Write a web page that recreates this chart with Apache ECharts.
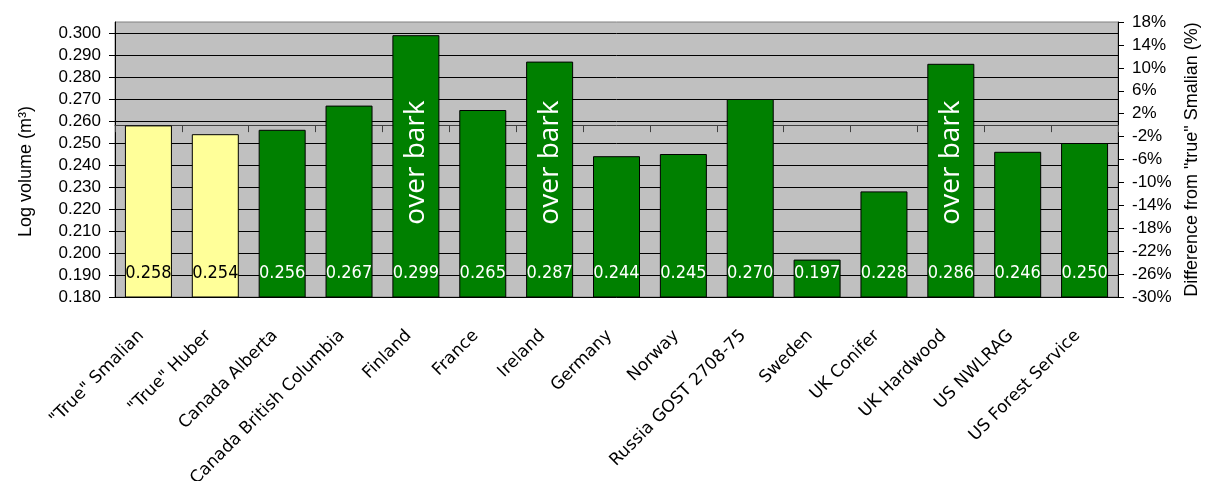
<!DOCTYPE html>
<html>
<head>
<meta charset="utf-8">
<script src="https://cdn.jsdelivr.net/npm/echarts@6/dist/echarts.min.js"></script>
<style>
html,body{margin:0;padding:0;background:#fff;}
#chart{width:1211px;height:481px;}
</style>
</head>
<body>
<div id="chart"></div>
<script>
const categories = ['"True" Smalian','"True" Huber','Canada Alberta','Canada British Columbia','Finland','France','Ireland','Germany','Norway','Russia GOST 2708-75','Sweden','UK Conifer','UK Hardwood','US NWLRAG','US Forest Service'];
const logVolumes = [0.258,0.254,0.256,0.267,0.299,0.265,0.287,0.244,0.245,0.270,0.197,0.228,0.286,0.246,0.250];
const referenceCats = ['"True" Smalian','"True" Huber'];
const overBarkCats = ['Finland','Ireland','UK Hardwood'];
const leftTicks = [0.18,0.19,0.20,0.21,0.22,0.23,0.24,0.25,0.26,0.27,0.28,0.29,0.30];
const rightTicks = [-30,-26,-22,-18,-14,-10,-6,-2,2,6,10,14,18];

const YELLOW = '#FFFF99', GREEN = '#008000';
const OVERBARK_Y = 0.2411; // vertical placement of the "over bark" note (axis units)

const barData = logVolumes.map((v, i) => {
  const isRef = referenceCats.includes(categories[i]);
  return {
    value: v,
    itemStyle: { color: isRef ? YELLOW : GREEN },
    label: { color: isRef ? '#000' : '#fff' }
  };
});

const chart = echarts.init(document.getElementById('chart'), null, {renderer: 'canvas'});
chart.setOption({
  animation: false,
  backgroundColor: '#fff',
  grid: {
    left: 115, right: 93, top: 22, bottom: 184,
    containLabel: false, outerBoundsMode: 'none',
    show: true, backgroundColor: '#C0C0C0', borderColor: '#808080', borderWidth: 1
  },
  xAxis: {
    type: 'category',
    data: categories,
    axisLine: { show: true, lineStyle: { color: '#404040', width: 1 } },
    axisTick: { show: true, length: 7, lineStyle: { color: '#404040' } },
    axisLabel: {
      interval: 0, rotate: 45, margin: 29, padding: [0, 10, 0, 0],
      fontFamily: 'DejaVu Sans', fontSize: 17, color: '#000'
    }
  },
  yAxis: [{
    type: 'value',
    position: 'left',
    min: 0.18, max: 0.305, interval: 0.01,
    name: 'Log volume (m³)',
    nameLocation: 'middle', nameGap: 80, nameRotate: 90,
    nameTextStyle: { fontFamily: 'Liberation Sans', fontSize: 18, color: '#000', padding: [0, 24, 0, 0] },
    axisLine: { show: true, lineStyle: { color: '#000' } },
    axisTick: { show: true, length: 6, lineStyle: { color: '#000' }, customValues: leftTicks },
    axisLabel: {
      margin: 14, customValues: leftTicks,
      fontFamily: 'Liberation Sans', fontSize: 17, color: '#000',
      formatter: v => v.toFixed(3)
    },
    splitLine: { show: true, lineStyle: { color: '#000', width: 1 } }
  }, {
    type: 'value',
    position: 'right',
    min: -30, max: 18,
    name: 'Difference from "true" Smalian (%)',
    nameLocation: 'middle', nameGap: 62, nameRotate: 90,
    nameTextStyle: { fontFamily: 'Liberation Sans', fontSize: 18, color: '#000' },
    axisLine: { show: true, lineStyle: { color: '#000' } },
    axisTick: { show: true, length: 6, lineStyle: { color: '#000' }, customValues: rightTicks },
    axisLabel: {
      margin: 14, customValues: rightTicks,
      fontFamily: 'Liberation Sans', fontSize: 17, color: '#000',
      formatter: v => v + '%'
    },
    splitLine: { show: false }
  }],
  series: [{
    type: 'bar',
    yAxisIndex: 0,
    data: barData,
    barWidth: 47,
    itemStyle: { borderColor: '#000', borderWidth: 1 },
    label: {
      show: true, position: 'insideBottom', distance: 15,
      fontFamily: "'DejaVu Sans Condensed', Roboto", fontSize: 18,
      formatter: p => p.value.toFixed(3)
    },
    markPoint: {
      symbol: 'rect', symbolSize: 1,
      itemStyle: { color: 'rgba(0,0,0,0)' },
      label: {
        show: true, position: 'inside', rotate: 90,
        color: '#fff', fontFamily: 'Open Sans', fontSize: 28,
        formatter: 'over bark'
      },
      data: overBarkCats.map(c => ({ coord: [c, OVERBARK_Y] }))
    }
  }]
});
</script>
</body>
</html>
